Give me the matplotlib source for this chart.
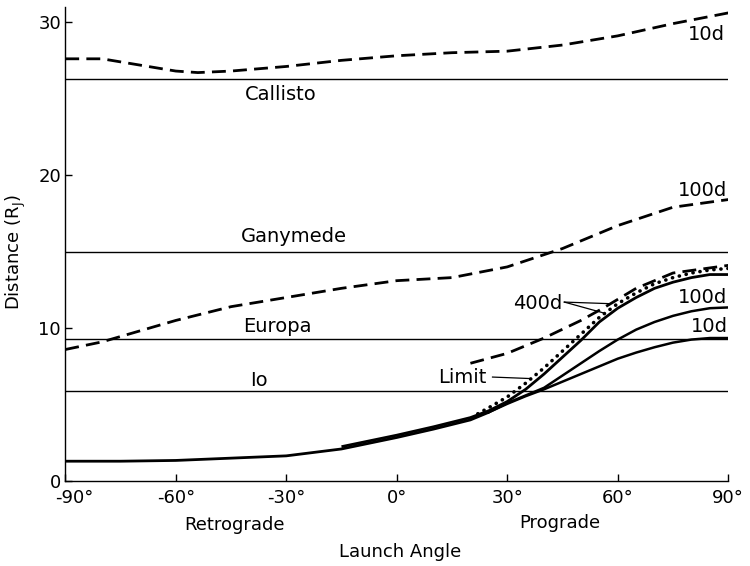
import matplotlib
matplotlib.use('Agg')
import matplotlib.pyplot as plt
from matplotlib.transforms import ScaledTranslation

# ── Data (launch angle in degrees, distance in Jupiter radii) ─────────────────

# moon orbits
moon_names = ["Callisto", "Ganymede", "Europa", "Io"]
moon_dist  = [26.3, 15.0, 9.3, 5.9]

# 10 day dashed curve (upper)
ang_10d_dash  = [-90, -80, -70, -60, -54, -45, -30, -15, 0, 15, 30, 45, 60, 75, 90]
dist_10d_dash = [27.6, 27.6, 27.2, 26.8, 26.7, 26.8, 27.1, 27.5, 27.8, 28.0,
                 28.1, 28.5, 29.1, 29.9, 30.6]

# 100 day dashed curve
ang_100d_dash  = [-90, -80, -70, -60, -45, -30, -15, 0, 15, 30, 45, 60, 75, 90]
dist_100d_dash = [8.6, 9.1, 9.8, 10.5, 11.4, 12.0, 12.6, 13.1, 13.3, 14.0,
                  15.2, 16.7, 17.9, 18.4]

# 400 day dashed curve
ang_400d_dash  = [20, 30, 40, 50, 56, 65, 75, 90]
dist_400d_dash = [7.7, 8.35, 9.35, 10.5, 11.3, 12.6, 13.6, 14.1]

# common solid branch
ang_base  = [-90, -75, -60, -45, -30, -15, 0, 10, 20, 25]
dist_base = [1.3, 1.3, 1.35, 1.5, 1.65, 2.1, 2.85, 3.4, 4.0, 4.5]

# 400 day solid
ang_400d  = [-15, -10, 0, 10, 20, 25, 30, 35, 40, 45, 50, 55, 60, 65, 70, 75, 80, 85, 90]
dist_400d = [2.25, 2.5, 3.0, 3.55, 4.15, 4.6, 5.2, 6.0, 7.0, 8.1, 9.2, 10.4,
             11.3, 12.0, 12.6, 13.0, 13.3, 13.5, 13.5]

# limit (dotted)
ang_limit  = [22, 25, 30, 35, 40, 45, 50, 55, 60, 65, 70, 75, 80, 85, 90]
dist_limit = [4.4, 4.8, 5.5, 6.4, 7.4, 8.5, 9.6, 10.7, 11.6, 12.3, 12.9,
              13.3, 13.6, 13.8, 13.9]

# 100 day solid
ang_100d  = [25, 30, 35, 40, 45, 50, 55, 60, 65, 70, 75, 80, 85, 90]
dist_100d = [4.5, 5.1, 5.6, 6.1, 6.9, 7.7, 8.5, 9.25, 9.9, 10.4, 10.8, 11.1, 11.3, 11.35]

# 10 day solid
ang_10d  = [25, 30, 35, 40, 45, 50, 55, 60, 65, 70, 75, 80, 85, 90]
dist_10d = [4.5, 5.05, 5.55, 6.0, 6.5, 7.0, 7.5, 8.0, 8.4, 8.75, 9.05, 9.25, 9.35, 9.35]

xticks      = [-90, -60, -30, 0, 30, 60, 90]
xticklabels = ["-90°", "-60°", "-30°", "0°", "30°", "60°", "90°"]
yticks      = [0, 10, 20, 30]

# ── Figure ────────────────────────────────────────────────────────────────────

plt.rcParams['font.family'] = ['DejaVu Sans']

fig = plt.figure(figsize=(7.5, 5.66), dpi=100)
ax = fig.add_axes([0.087, 0.150, 0.884, 0.838])

for d in moon_dist:
    ax.plot([-90, 90], [d, d], color='black', lw=1.0)

dash = (0, (5, 2.6))
ax.plot(ang_10d_dash, dist_10d_dash, color='black', lw=2.0, linestyle=dash)
ax.plot(ang_100d_dash, dist_100d_dash, color='black', lw=2.0, linestyle=dash)
ax.plot(ang_400d_dash, dist_400d_dash, color='black', lw=2.0, linestyle=dash)

ax.plot(ang_base, dist_base, color='black', lw=2.0, solid_capstyle='butt')
ax.plot(ang_400d, dist_400d, color='black', lw=2.0, solid_capstyle='butt')
ax.plot(ang_100d, dist_100d, color='black', lw=1.8)
ax.plot(ang_10d, dist_10d, color='black', lw=1.8)
ax.plot(ang_limit, dist_limit, color='black', lw=2.6,
        linestyle=(0, (0.05, 1.9)), dash_capstyle='round')

# moon labels
moon_label_pos = [(-31.5, 25.3), (-28, 16.0), (-32.4, 10.1), (-37.5, 6.6)]
for name, (xx, yy) in zip(moon_names, moon_label_pos):
    ax.text(xx, yy, name, fontsize=14, ha='center', va='center')

# curve labels
ax.text(84, 29.2, "10d", fontsize=14, ha='center', va='center')
ax.text(83, 19.0, "100d", fontsize=14, ha='center', va='center')
ax.text(83, 12.0, "100d", fontsize=14, ha='center', va='center')
ax.text(85, 10.1, "10d", fontsize=14, ha='center', va='center')

ax.text(38.3, 11.6, "400d", fontsize=14, ha='center', va='center')
ax.plot([45.5, 57.5], [11.7, 11.6], color='black', lw=0.9)
ax.plot([45.5, 56.0], [11.7, 11.0], color='black', lw=0.9)

ax.text(17.8, 6.8, "Limit", fontsize=14, ha='center', va='center')
ax.plot([26, 36.5], [6.8, 6.7], color='black', lw=0.9)

# axes styling
ax.set_xlim(-90, 90)
ax.set_ylim(0, 31)
ax.spines['top'].set_visible(False)
ax.spines['right'].set_visible(False)
ax.spines['left'].set_linewidth(1.0)
ax.spines['bottom'].set_linewidth(1.0)

ax.set_xticks(xticks)
ax.set_xticklabels(xticklabels, fontsize=13)
ax.set_yticks(yticks)
ax.set_yticklabels([str(v) for v in yticks], fontsize=13)
ax.tick_params(axis='both', direction='in', length=5, width=1.0)
ax.tick_params(axis='x', pad=6)
ax.tick_params(axis='y', pad=3)

# nudge the first angle label clear of the "0"
first = ax.get_xticklabels()[0]
first.set_transform(first.get_transform() + ScaledTranslation(0.09, 0, fig.dpi_scale_trans))

fig.text(234 / 750, 1 - 525 / 566, "Retrograde", fontsize=13, ha='center', va='center')
fig.text(560 / 750, 1 - 523 / 566, "Prograde", fontsize=13, ha='center', va='center')
fig.text(400 / 750, 1 - 552 / 566, "Launch Angle", fontsize=13, ha='center', va='center')
fig.text(16 / 750, 1 - 252 / 566, r"Distance (R$_\mathregular{J}$)", fontsize=13,
         ha='center', va='center', rotation=90)

fig.savefig("out.png", dpi=100)
